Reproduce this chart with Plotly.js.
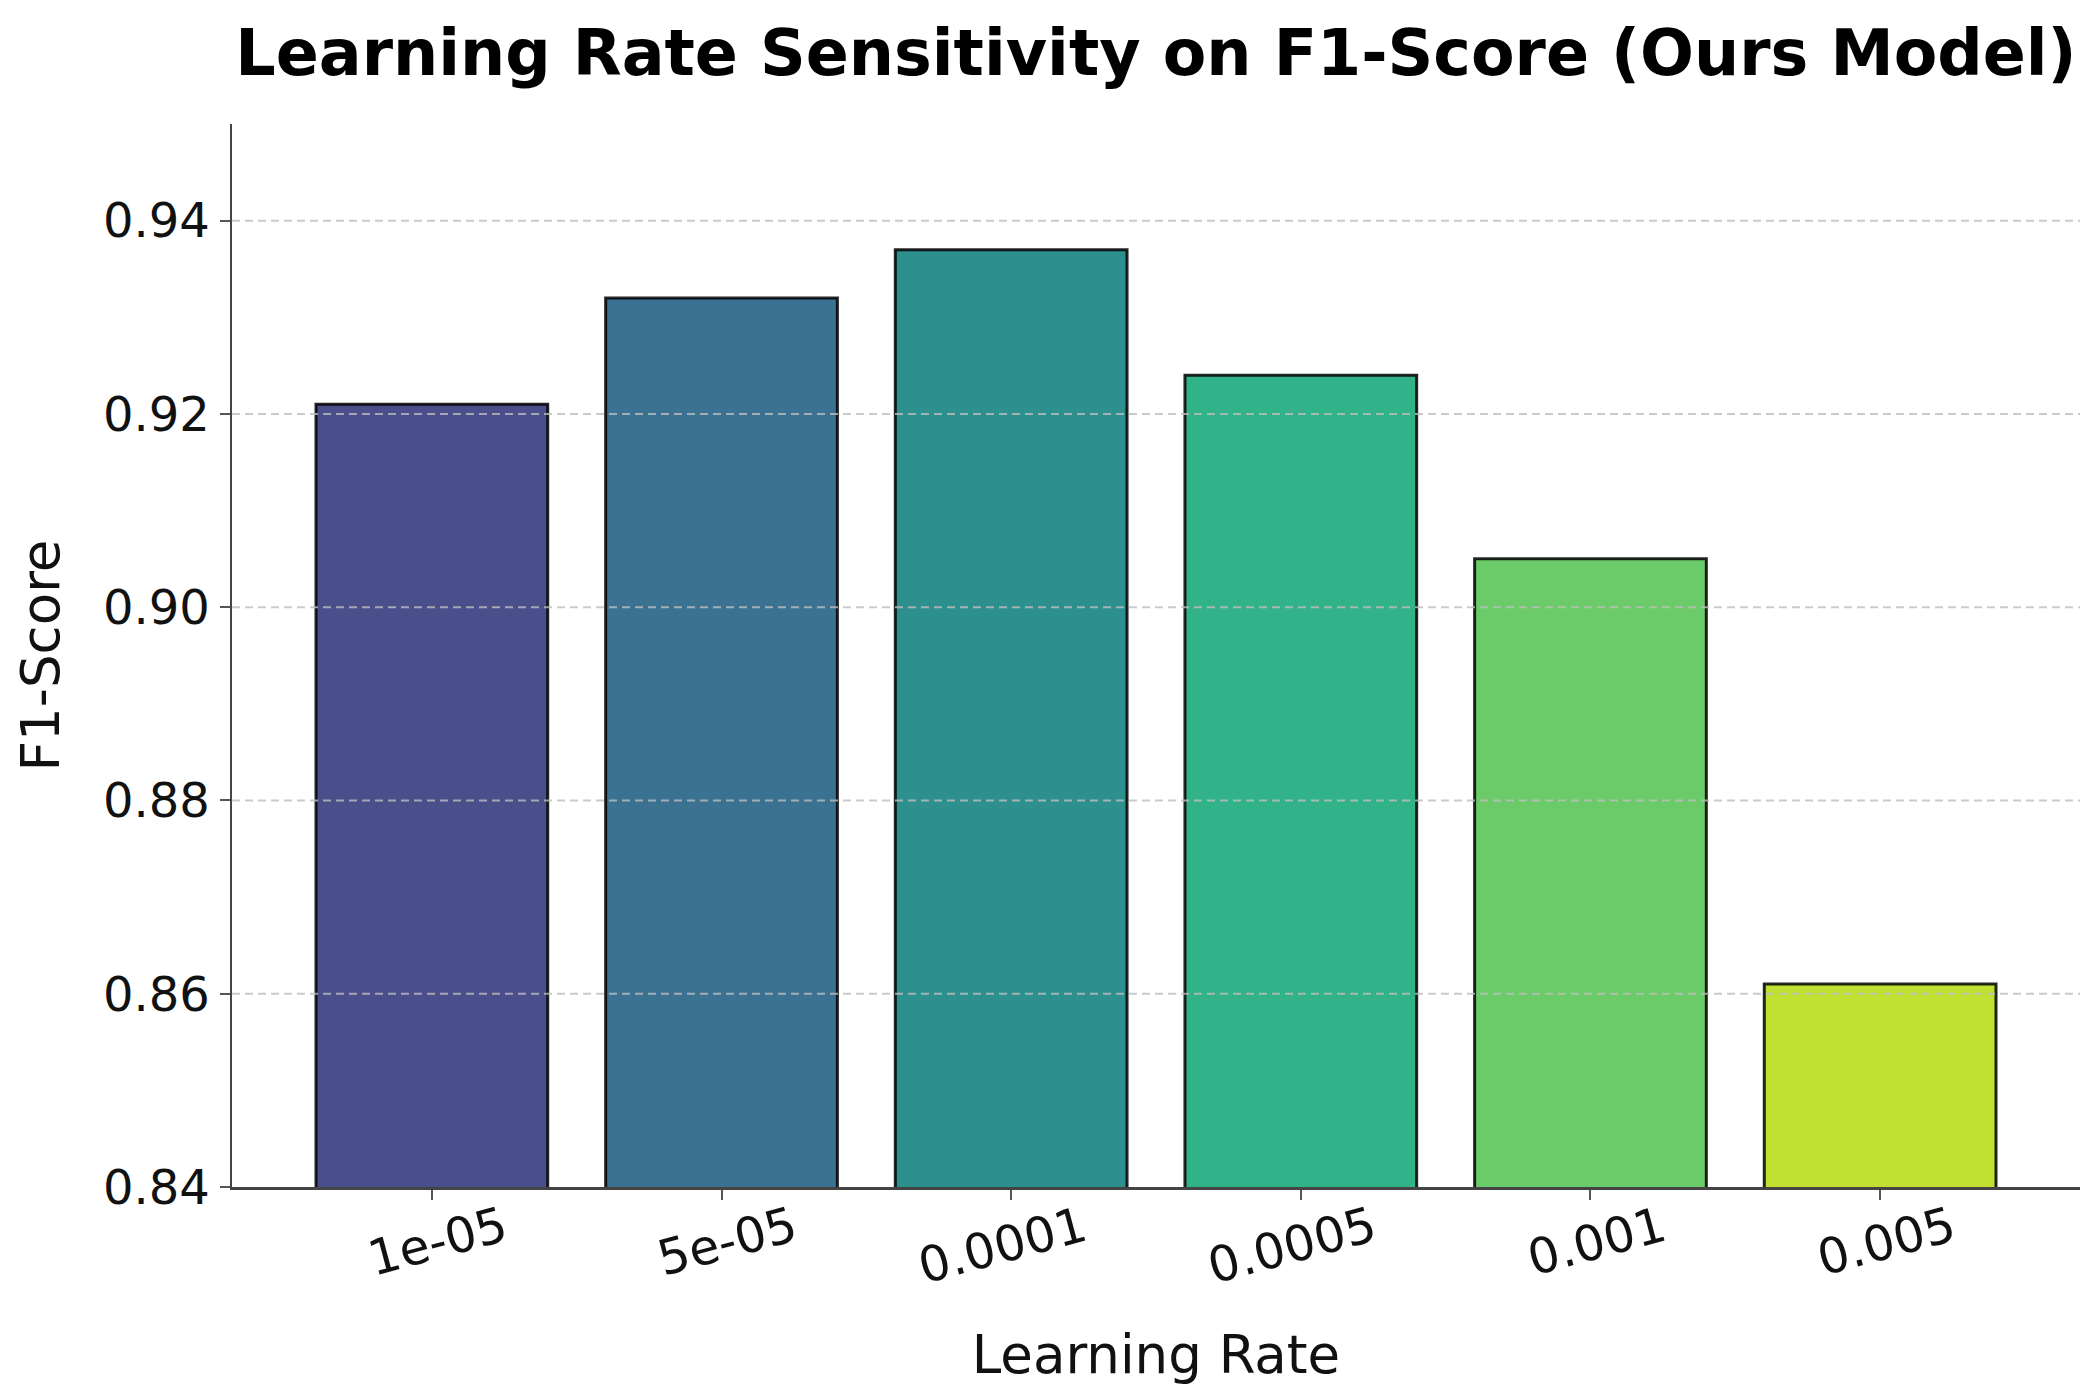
<!DOCTYPE html>
<html>
<head>
<meta charset="utf-8">
<script src="https://cdn.plot.ly/plotly-3.0.1.min.js"></script>
<style>html,body{margin:0;padding:0;background:#fff;}#chart{width:2091px;height:1396px;}</style>
</head>
<body>
<div id="chart"></div>
<script>
var learningRates = ["1e-05", "5e-05", "0.0001", "0.0005", "0.001", "0.005"];
var f1Scores = [0.921, 0.932, 0.937, 0.924, 0.905, 0.861];
var barColors = ["#4a4e8a", "#3b7191", "#2e8f8f", "#32b288", "#6bcb69", "#c0e032"];
var yTickVals = [0.84, 0.86, 0.88, 0.90, 0.92, 0.94];
var yRange = [0.84, 0.95];

var trace = {
  type: "bar",
  x: learningRates,
  y: f1Scores,
  width: 0.8,
  marker: {color: barColors, line: {color: "rgba(0,0,0,0.85)", width: 3}},
  hoverinfo: "x+y"
};

var gridShapes = yTickVals.slice(1).map(function (v) {
  return {type: "line", xref: "paper", x0: 0, x1: 1, yref: "y", y0: v, y1: v,
          layer: "above", line: {color: "rgba(190,190,190,0.8)", width: 2, dash: "8px,5px"}};
});

var font = "DejaVu Sans, sans-serif";
var layout = {
  width: 2091, height: 1396,
  margin: {l: 232, r: 11, t: 124, b: 209},
  paper_bgcolor: "#fff", plot_bgcolor: "#fff",
  showlegend: false,
  title: {text: "<b>Learning Rate Sensitivity on F1-Score (Ours Model)</b>",
          font: {family: font, size: 63.5, color: "#000"},
          xref: "paper", x: 0.5, xanchor: "center",
          yref: "container", y: 1 - 53 / 1396, yanchor: "middle"},
  xaxis: {
    type: "category",
    range: [-0.69, 5.69],
    showgrid: false, zeroline: false,
    showline: true, linecolor: "#444", linewidth: 2.5,
    ticks: "outside", ticklen: 10, tickwidth: 2, tickcolor: "#555",
    tickangle: -15, ticklabelshift: 72, ticklabelstandoff: -18,
    tickfont: {family: font, size: 49, color: "#111"},
    title: {text: "Learning Rate", font: {family: font, size: 53, color: "#111"}, standoff: 42}
  },
  yaxis: {
    range: yRange,
    tickvals: yTickVals, tickformat: ".2f",
    showgrid: false, zeroline: false,
    showline: true, linecolor: "#444", linewidth: 2.5,
    ticks: "outside", ticklen: 10, tickwidth: 2, tickcolor: "#555",
    tickfont: {family: font, size: 48, color: "#111"},
    title: {text: "F1-Score", font: {family: font, size: 53, color: "#111"}, standoff: 27}
  },
  shapes: gridShapes
};

Plotly.newPlot("chart", [trace], layout, {displayModeBar: false, staticPlot: true});
</script>
</body>
</html>
